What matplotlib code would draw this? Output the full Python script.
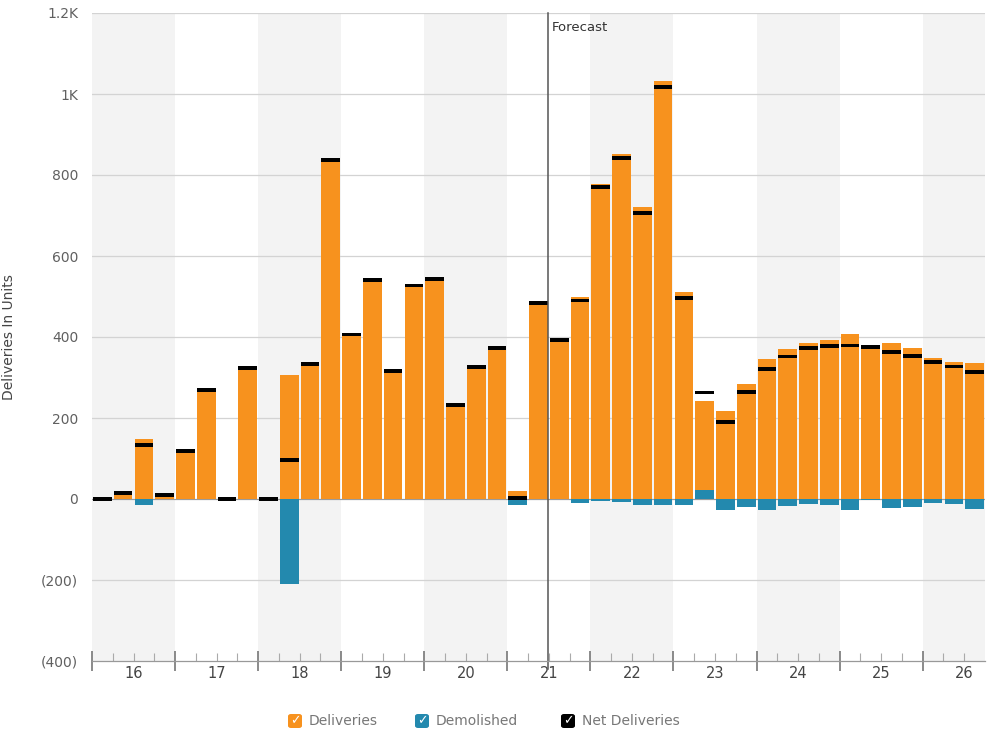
import matplotlib
matplotlib.use("Agg")
import matplotlib.pyplot as plt
from matplotlib.patches import FancyBboxPatch
import numpy as np

# ---- data (quarterly, 2016Q1 .. 2026Q3) ----
years = ["16", "17", "18", "19", "20", "21", "22", "23", "24", "25", "26"]
deliveries = [0, 20, 147, 12, 122, 273, 0, 327, 0, 307, 337, 843,
              410, 544, 320, 531, 547, 236, 329, 377, 20, 487, 397, 500,
              777, 851, 722, 1032, 510, 241, 218, 284, 346, 370, 386, 392,
              407, 378, 386, 373, 349, 339, 337]
demolished = [0, 0, -16, 0, 0, 0, 0, 0, 0, -210, 0, 0,
              0, 0, 0, 0, 0, 0, 0, 0, -16, 0, 0, -11,
              -6, -8, -15, -15, -14, 22, -28, -20, -26, -18, -13, -14,
              -28, -3, -22, -19, -11, -12, -24]
net_deliveries = [0, 15, 133, 9, 118, 269, 0, 323, 0, 96, 333, 838,
                  406, 540, 316, 527, 543, 232, 325, 373, 3, 483, 393, 490,
                  771, 843, 707, 1017, 496, 263, 190, 265, 320, 352, 373, 378,
                  379, 375, 364, 354, 338, 327, 313]
forecast_start = 21.5  # mid-2021
yticks = [-400, -200, 0, 200, 400, 600, 800, 1000, 1200]
ytick_labels = ["(400)", "(200)", "0", "200", "400", "600", "800", "1K", "1.2K"]

ORANGE = "#F7921E"
TEAL = "#2389AE"
BLACK = "#000000"
GRAY_TXT = "#606060"

fig = plt.figure(figsize=(9.9, 7.34), dpi=100)
ax = fig.add_axes([92/990, 1-661/734, (985-92)/990, (661-13)/734])

n = len(deliveries)
x = np.arange(n)
ax.set_xlim(-0.5, n - 0.5)
ax.set_ylim(-400, 1200)

# alternating year bands
for k, yr in enumerate(years):
    if k % 2 == 0:
        ax.axvspan(4*k - 0.5, min(4*k + 3.5, n - 0.5), color="#f3f3f3", lw=0, zorder=0)

# grid
for yv in yticks[1:]:
    ax.axhline(yv, color="#d3d3d3", lw=0.9, zorder=1)

w = 0.9
ax.bar(x, deliveries, width=w, color=ORANGE, zorder=2, linewidth=0)
ax.bar(x, demolished, width=w, color=TEAL, zorder=3, linewidth=0)
mh = 9.5
ax.bar(x, [mh]*n, bottom=[v - mh/2 for v in net_deliveries], width=w,
       color=BLACK, zorder=4, linewidth=0)

# zero baseline
ax.axhline(0, color="#9a9a9a", lw=0.8, zorder=1.5)

# forecast line
ax.axvline(forecast_start - 0.03, ymin=-0.012, ymax=1, color="#555555", lw=1.1, zorder=5, clip_on=False)
ax.text(forecast_start + 0.12, 1165, "Forecast", color="#333333", fontsize=9.5, va="center", ha="left")

# axes styling
for s in ["top", "right", "left"]:
    ax.spines[s].set_visible(False)
ax.spines["bottom"].set_color("#999999")
ax.spines["bottom"].set_linewidth(0.9)
ax.spines["bottom"].set_zorder(6)

ax.set_yticks(yticks)
ax.set_yticklabels(ytick_labels, color=GRAY_TXT, fontsize=10)
ax.tick_params(axis="y", length=0, pad=10)

# x ticks: major at year boundaries, minor at quarters, labels at year centers
major = [4*k - 0.5 for k in range(len(years))]
minor = [q + 0.5 for q in range(n - 1) if (q + 1) % 4 != 0]
ax.set_xticks(major)
ax.set_xticklabels([""] * len(major))
ax.set_xticks(minor, minor=True)
ax.tick_params(axis="x", which="major", direction="inout", length=14, width=1.2, color="#777777")
ax.tick_params(axis="x", which="minor", direction="in", length=6, width=0.8, color="#aaaaaa")
for k, yr in enumerate(years):
    ax.text(4*k + 1.5, -412, yr, ha="center", va="top", color="#444444", fontsize=10.5)

ax.set_ylabel("Deliveries In Units", color="#444444", fontsize=10)
ax.yaxis.set_label_coords(-0.085, 0.5)

# legend (custom checkbox style)
items = [(ORANGE, "Deliveries", 295), (TEAL, "Demolished", 422), (BLACK, "Net Deliveries", 568)]
for col, lab, px in items:
    sq = 14
    fx = (px - sq/2) / 990
    fy = 1 - (721 + sq/2) / 734
    box = FancyBboxPatch((fx, fy), sq/990, sq/734, boxstyle="round,pad=0,rounding_size=0.003",
                         transform=fig.transFigure, facecolor=col, edgecolor="none")
    fig.add_artist(box)
    fig.text(px/990, 1 - 721/734, "\u2713", color="white", fontsize=9, ha="center", va="center",
             fontweight="bold")
    fig.text((px + 14)/990, 1 - 721/734, lab, color="#777777", fontsize=10, ha="left", va="center")

fig.savefig("out.png", dpi=100, facecolor="white")
